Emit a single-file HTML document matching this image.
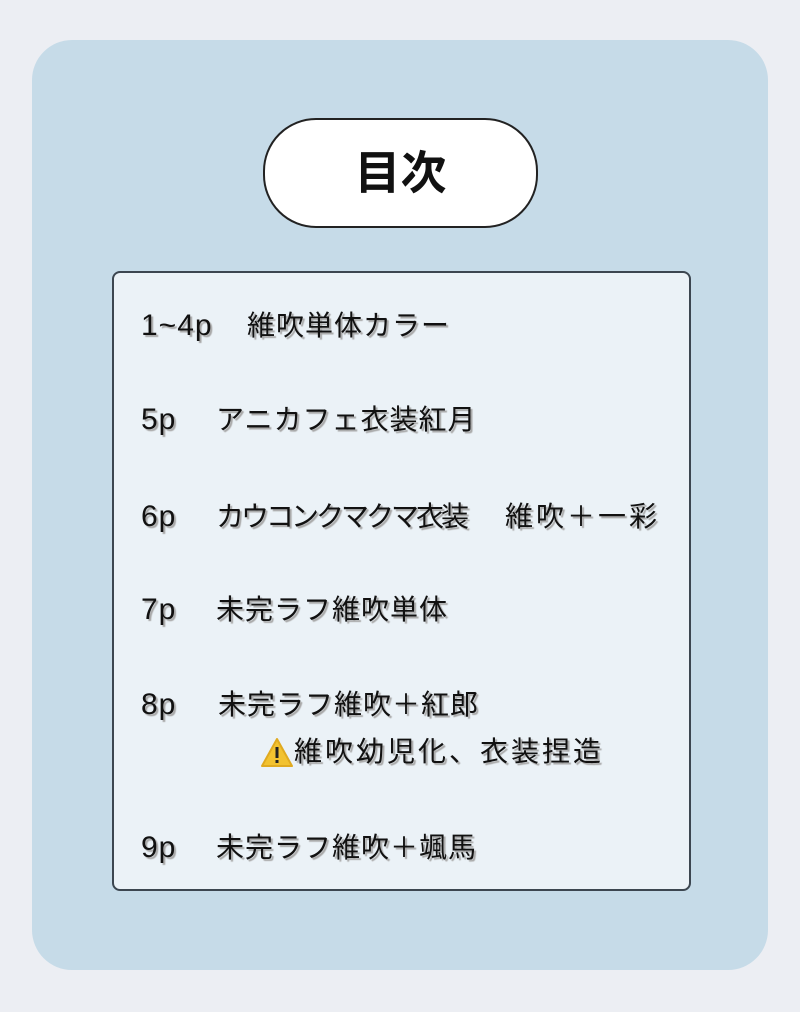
<!DOCTYPE html>
<html><head><meta charset="utf-8"><style>
body{margin:0;width:800px;height:1012px;background:#eceef3;position:relative;overflow:hidden;font-family:"Liberation Sans","Noto Sans CJK JP",sans-serif;}
.panel{position:absolute;left:32px;top:40px;width:736px;height:930px;background:#c6dbe8;border-radius:40px;}
.pill{position:absolute;left:263px;top:118px;width:271px;height:106px;background:#fff;border:2px solid #222;border-radius:53px;text-align:center;line-height:106px;font-size:46px;font-weight:bold;color:#111;}
.box{position:absolute;left:112px;top:271px;width:575px;height:616px;background:#ebf2f7;border:2px solid #3c4650;border-radius:8px;}
.t{position:absolute;font-size:28px;letter-spacing:1px;line-height:30px;color:#111;white-space:pre;text-shadow:2px 2px 1px #a8a8a8;}
.n{font-size:30px;letter-spacing:1px;}
</style></head><body>
<div class="panel"></div>
<div class="pill">目次</div>
<div class="box"></div>
<div class="t n" style="left:141px;top:311px">1~4p</div><div class="t" style="left:247px;top:311px">維吹単体カラー</div>
<div class="t n" style="left:141px;top:405px">5p</div><div class="t" style="left:216px;top:405px">アニカフェ衣装紅月</div>
<div class="t n" style="left:141px;top:502px">6p</div><div class="t" style="left:216px;top:502px;letter-spacing:-3px">カウコンクマクマ衣装</div><div class="t" style="left:505px;top:502px;letter-spacing:3px">維吹＋一彩</div>
<div class="t n" style="left:141px;top:595px">7p</div><div class="t" style="left:216px;top:595px">未完ラフ維吹単体</div>
<div class="t n" style="left:141px;top:690px">8p</div><div class="t" style="left:218px;top:690px">未完ラフ維吹＋紅郎</div>
<svg style="position:absolute;left:260px;top:737px" width="34" height="32" viewBox="0 0 34 32"><path d="M17 2 L32 29 L2 29 Z" fill="#f2c230" stroke="#e0aa20" stroke-width="2" stroke-linejoin="round"/><rect x="15.5" y="10" width="3" height="11" fill="#222"/><rect x="15.5" y="23" width="3" height="3" fill="#222"/></svg>
<div class="t" style="left:294px;top:737px;letter-spacing:3px">維吹幼児化、衣装捏造</div>
<div class="t n" style="left:141px;top:833px">9p</div><div class="t" style="left:216px;top:833px">未完ラフ維吹＋颯馬</div>
</body></html>
